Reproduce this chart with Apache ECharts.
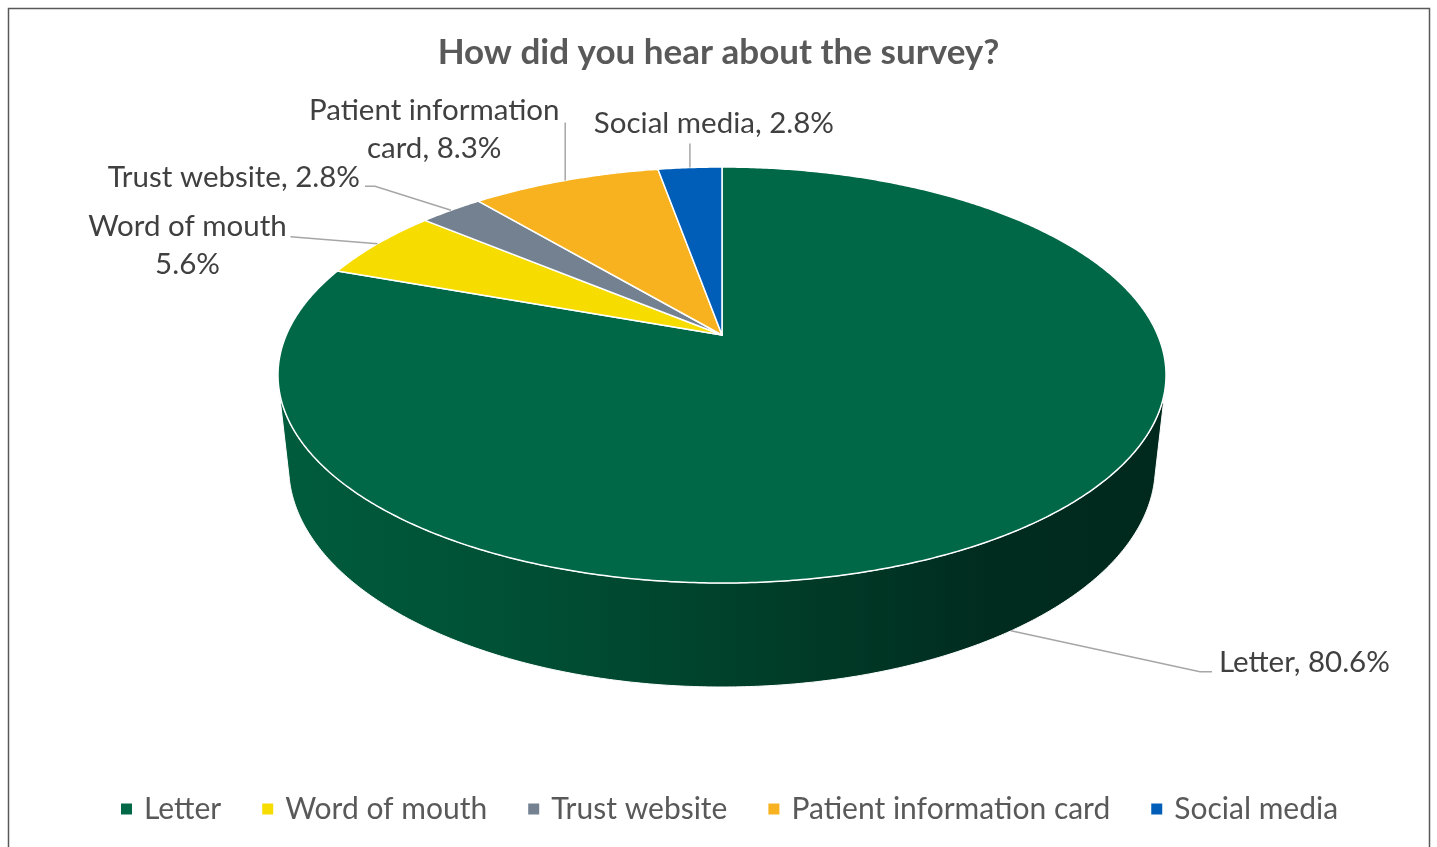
<!DOCTYPE html>
<html>
<head>
<meta charset="utf-8">
<script src="https://cdn.jsdelivr.net/npm/echarts@6/dist/echarts.min.js"></script>
<style>
  html, body { margin: 0; padding: 0; background: #ffffff; }
  #chart { width: 1437px; height: 847px; }
</style>
</head>
<body>
<div id="chart"></div>
<script>
// Survey answers and their shares (percent of respondents)
const categories = ['Letter', 'Word of mouth', 'Trust website', 'Patient information card', 'Social media'];
const shares = [80.6, 5.6, 2.8, 8.3, 2.8];

// Slice colours (top faces)
const sliceColors = ['#006847', '#F7DC00', '#738190', '#F9B21F', '#005EB8'];

// Label placement relative to each slice's anchor point on the rim
const labelLayout = [
  { text: (n, v) => `${n}, ${v.toFixed(1)}%`, dx: 208, dy: 32, align: 'left', leader: [[189, 41], [201, 41]], rim: 'bottom' },
  { text: (n, v) => `${n}\n${v.toFixed(1)}%`, dx: -190, dy: 2, align: 'center', leader: [[-87, -7]], rim: 'top' },
  { text: (n, v) => `${n}, ${v.toFixed(1)}%`, dx: -91, dy: -33, align: 'right', leader: [[-76, -24], [-86, -24]], rim: 'top' },
  { text: (n, v) => `${n.replace(' card', '\ncard')}, ${v.toFixed(1)}%`, dx: -131, dy: -51, align: 'center', leader: [[0, -58]], rim: 'top' },
  { text: (n, v) => `${n}, ${v.toFixed(1)}%`, dx: 24, dy: -44, align: 'center', leader: [[0, -24]], rim: 'top' }
];

const total = shares.reduce((a, b) => a + b, 0);
const starts = [];
shares.reduce((acc, v, i) => { starts[i] = acc; return acc + v; }, 0);

// Perspective camera for the tilted disc
const cam = { cx: 722, cy: 335, f: 2012.2, D: 4.618, s: 0.4597, c: 0.88808, H: 0.2387 };

// theta: degrees clockwise from the back of the disc; h: 0 = top face, -H = bottom
function project(theta, h) {
  const t = theta * Math.PI / 180;
  const u = Math.sin(t), v = -Math.cos(t);
  const yc = v * cam.s - h * cam.c;
  const zc = cam.D - v * cam.c - h * cam.s;
  return [cam.cx + cam.f * u / zc, cam.cy + cam.f * yc / zc];
}

// Angles where the side wall's silhouette lies
const vSil = 1 / (cam.D * cam.c);
const thetaRight = Math.acos(-vSil) * 180 / Math.PI;
const thetaLeft = 360 - thetaRight;

function arc(a0, a1, h) {
  const pts = [];
  const n = Math.max(2, Math.ceil(Math.abs(a1 - a0) / 0.5));
  for (let k = 0; k <= n; k++) pts.push(project(a0 + (a1 - a0) * k / n, h));
  return pts;
}

const sideGradient = {
  type: 'linear', x: 278, y: 0, x2: 1166, y2: 0, global: true,
  colorStops: [
    { offset: 0, color: '#005C3D' },
    { offset: 0.3, color: '#004E34' },
    { offset: 0.55, color: '#003E29' },
    { offset: 0.8, color: '#002C1F' },
    { offset: 1, color: '#00291D' }
  ]
};

const labelFont = 'Lato, "Noto Sans", sans-serif';

function renderSlice(params, api) {
  const idx = params.seriesIndex;
  const value = api.value(0);
  const start = api.value(1);
  const sum = api.value(2);
  const a0 = start / sum * 360;
  const a1 = (start + value) / sum * 360;
  const children = [];

  // Visible part of the side wall (front half only)
  const s0 = Math.max(a0, thetaRight), s1 = Math.min(a1, thetaLeft);
  if (s1 > s0) {
    const top = arc(s0, s1, 0);
    const bottom = arc(s1, s0, -cam.H);
    children.push({
      type: 'polygon',
      shape: { points: top.concat(bottom) },
      style: { fill: sideGradient, stroke: '#ffffff', lineWidth: 1 }
    });
  }

  // Top face
  const face = [[cam.cx, cam.cy]].concat(arc(a0, a1, 0));
  children.push({
    type: 'polygon',
    shape: { points: face },
    style: { fill: sliceColors[idx], stroke: '#ffffff', lineWidth: 1.5, lineJoin: 'round' }
  });

  // Data label with leader line
  const lay = labelLayout[idx];
  const mid = (a0 + a1) / 2;
  const anchor = project(mid, lay.rim === 'bottom' ? -cam.H : 0);
  const pts = [anchor].concat(lay.leader.map(p => [anchor[0] + p[0], anchor[1] + p[1]]));
  children.push({
    type: 'polyline',
    shape: { points: pts },
    style: { stroke: '#A6A6A6', lineWidth: 1.5, fill: null }
  });
  children.push({
    type: 'text',
    style: {
      text: lay.text(categories[idx], value),
      x: anchor[0] + lay.dx,
      y: anchor[1] + lay.dy,
      align: lay.align,
      verticalAlign: 'middle',
      fontSize: 29.5,
      lineHeight: 38,
      fontFamily: labelFont,
      fill: '#404040'
    }
  });

  return { type: 'group', children };
}

const chart = echarts.init(document.getElementById('chart'), null, { renderer: 'canvas' });

chart.setOption({
  animation: false,
  backgroundColor: '#ffffff',
  title: {
    text: 'How did you hear about the survey?',
    left: 'center',
    top: 30,
    textStyle: { fontFamily: labelFont, fontWeight: 'bold', fontSize: 35, color: '#595959' }
  },
  legend: {
    data: categories,
    bottom: 18,
    left: 116,
    icon: 'rect',
    itemWidth: 11,
    itemHeight: 11,
    itemGap: 41,
    textStyle: { fontFamily: labelFont, fontSize: 30, color: '#595959', padding: [0, 0, 0, 7] }
  },
  graphic: [{
    type: 'rect',
    shape: { x: 8.5, y: 8.5, width: 1421, height: 850 },
    style: { fill: null, stroke: '#595959', lineWidth: 1.5 },
    silent: true
  }],
  series: categories.map((name, i) => ({
    type: 'custom',
    name,
    coordinateSystem: 'none',
    itemStyle: { color: sliceColors[i] },
    renderItem: renderSlice,
    data: [[shares[i], starts[i], total]]
  }))
});
</script>
</body>
</html>
